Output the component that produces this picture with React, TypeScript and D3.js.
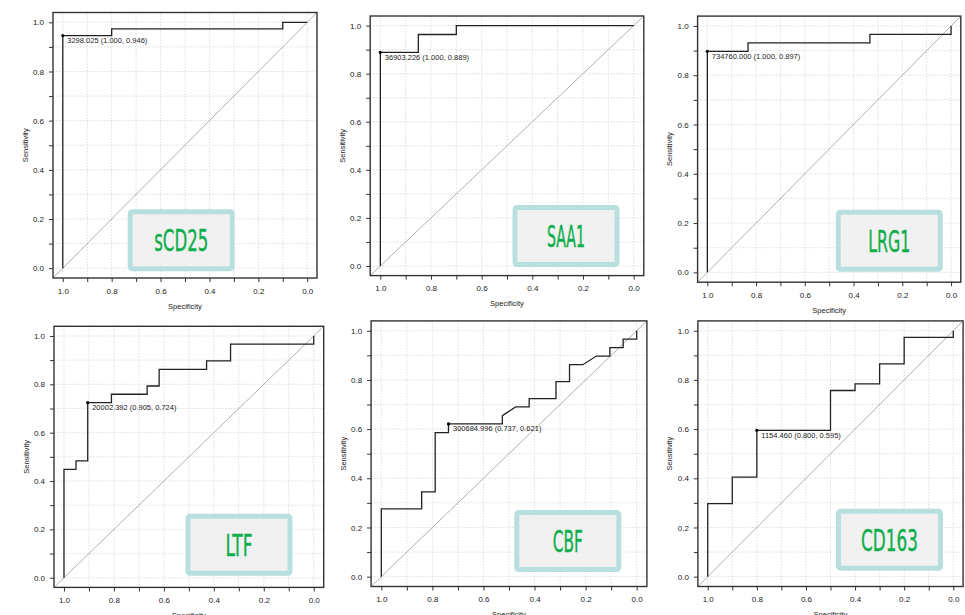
import React, { useEffect, useRef } from 'react'
import * as d3 from 'd3'

const W = 965
const H = 615

// markers, in panel order (row by row)
const markers = ['sCD25', 'SAA1', 'LRG1', 'LTF', 'CBF', 'CD163']

// ROC points: specificity / sensitivity
const sCD25Spec = [1, 1, 0.8, 0.8, 0.1, 0.1, 0]
const sCD25Sens = [0, 0.946, 0.946, 0.973, 0.973, 1, 1]
const saa1Spec = [1, 1, 0.85, 0.85, 0.7, 0.7, 0]
const saa1Sens = [0, 0.889, 0.889, 0.963, 0.963, 1, 1]
const lrg1Spec = [1, 1, 0.833, 0.833, 0.333, 0.333, 0, 0]
const lrg1Sens = [0, 0.897, 0.897, 0.931, 0.931, 0.966, 0.966, 1]
const ltfSpec = [1, 1, 0.952, 0.952, 0.905, 0.905, 0.81, 0.81, 0.667, 0.667, 0.619, 0.619, 0.429, 0.429, 0.333, 0.333, 0, 0]
const ltfSens = [0, 0.448, 0.448, 0.483, 0.483, 0.724, 0.724, 0.759, 0.759, 0.793, 0.793, 0.862, 0.862, 0.897, 0.897, 0.966, 0.966, 1]
const cbfSpec = [1, 1, 0.842, 0.842, 0.789, 0.789, 0.737, 0.737, 0.526, 0.526, 0.474, 0.421, 0.421, 0.316, 0.316, 0.263, 0.263, 0.211, 0.158, 0.105, 0.105, 0.053, 0.053, 0, 0]
const cbfSens = [0, 0.276, 0.276, 0.345, 0.345, 0.586, 0.586, 0.621, 0.621, 0.655, 0.69, 0.69, 0.724, 0.724, 0.793, 0.793, 0.862, 0.862, 0.897, 0.897, 0.931, 0.931, 0.966, 0.966, 1]
const cd163Spec = [1, 1, 0.9, 0.9, 0.8, 0.8, 0.5, 0.5, 0.4, 0.4, 0.3, 0.3, 0.2, 0.2, 0, 0]
const cd163Sens = [0, 0.297, 0.297, 0.405, 0.405, 0.595, 0.595, 0.757, 0.757, 0.784, 0.784, 0.865, 0.865, 0.973, 0.973, 1]

// best threshold per marker
const cutoffValues = ['3298.025', '36903.226', '734760.000', '20002.392', '300684.996', '1154.460']
const cutoffSpec = [1, 1, 1, 0.905, 0.737, 0.8]
const cutoffSens = [0.946, 0.889, 0.897, 0.724, 0.621, 0.595]

const majorTicks = [0, 0.2, 0.4, 0.6, 0.8, 1.0]
const minorTicks = [0.1, 0.3, 0.5, 0.7, 0.9]

const rocSpec = [sCD25Spec, saa1Spec, lrg1Spec, ltfSpec, cbfSpec, cd163Spec]
const rocSens = [sCD25Sens, saa1Sens, lrg1Sens, ltfSens, cbfSens, cd163Sens]

// layout: plot frames and the name badges (pixel positions)
const frames = [
  { l: 53, t: 12.5, r: 317, b: 278 },
  { l: 370.2, t: 16, r: 643.8, b: 275.6 },
  { l: 697.6, t: 16.1, r: 960.8, b: 282.2 },
  { l: 54, t: 326.3, r: 323.7, b: 587.4 },
  { l: 371.1, t: 320.9, r: 646.9, b: 586.5 },
  { l: 697.9, t: 320.9, r: 963.1, b: 586.5 },
]
const badges = [
  { cx: 181.2, cy: 240.3, tw: 54 },
  { cx: 566, cy: 236, tw: 38 },
  { cx: 889.3, cy: 240.7, tw: 42 },
  { cx: 239, cy: 544.7, tw: 27 },
  { cx: 567.8, cy: 541, tw: 30 },
  { cx: 889.5, cy: 539.7, tw: 57 },
]

const ink = '#222'
const font = 'Liberation Sans, Arial, sans-serif'

const App = () => {
  const ref = useRef(null)

  useEffect(() => {
    const svg = d3.select(ref.current)
    svg.selectAll('*').remove()
    const allTicks = [...majorTicks, ...minorTicks]

    markers.forEach((name, i) => {
      const f = frames[i]
      const x = d3.scaleLinear().domain([1.04, -0.04]).range([f.l, f.r])
      const y = d3.scaleLinear().domain([-0.04, 1.04]).range([f.b, f.t])
      const g = svg.append('g')

      // grid
      g.selectAll('.gx').data(allTicks).enter().append('line')
        .attr('x1', d => x(d)).attr('x2', d => x(d))
        .attr('y1', f.t).attr('y2', f.b)
        .attr('stroke', '#d6d6d6').attr('stroke-width', 0.8).attr('stroke-dasharray', '1.5,1.5')
      g.selectAll('.gy').data(allTicks).enter().append('line')
        .attr('y1', d => y(d)).attr('y2', d => y(d))
        .attr('x1', f.l).attr('x2', f.r)
        .attr('stroke', '#d6d6d6').attr('stroke-width', 0.8).attr('stroke-dasharray', '1.5,1.5')

      // chance line
      g.append('line')
        .attr('x1', x(1.04)).attr('y1', y(-0.04))
        .attr('x2', x(-0.04)).attr('y2', y(1.04))
        .attr('stroke', '#b0b0b0').attr('stroke-width', 1)

      // name badge
      const b = badges[i]
      g.append('rect')
        .attr('x', b.cx - 51).attr('y', b.cy - 28.5)
        .attr('width', 102).attr('height', 57).attr('rx', 2)
        .attr('fill', '#eeeeee').attr('fill-opacity', 0.85)
        .attr('stroke', '#b8dfe0').attr('stroke-width', 5)
      g.append('text')
        .attr('x', b.cx).attr('y', b.cy + 11)
        .attr('text-anchor', 'middle')
        .attr('textLength', b.tw).attr('lengthAdjust', 'spacingAndGlyphs')
        .style('font-family', 'Liberation Sans Narrow, DejaVu Sans Condensed, sans-serif')
        .style('font-size', '30px')
        .attr('fill', '#0fae4b').attr('stroke', '#0fae4b').attr('stroke-width', 0.4)
        .text(name)

      // ROC curve
      const pts = rocSpec[i].map((s, k) => [s, rocSens[i][k]])
      const line = d3.line().x(d => x(d[0])).y(d => y(d[1]))
      g.append('path')
        .attr('d', line(pts))
        .attr('fill', 'none').attr('stroke', ink).attr('stroke-width', 1.3)

      // best threshold
      const px = x(cutoffSpec[i])
      const py = y(cutoffSens[i])
      g.append('circle').attr('cx', px).attr('cy', py).attr('r', 1.6).attr('fill', '#000')
      g.append('text')
        .attr('x', px + 4.5).attr('y', py + 7.5)
        .style('font-family', font).style('font-size', '7.5px')
        .attr('fill', ink)
        .text(`${cutoffValues[i]} (${cutoffSpec[i].toFixed(3)}, ${cutoffSens[i].toFixed(3)})`)

      // frame
      g.append('rect')
        .attr('x', f.l).attr('y', f.t).attr('width', f.r - f.l).attr('height', f.b - f.t)
        .attr('fill', 'none').attr('stroke', '#333').attr('stroke-width', 1.4)

      // axes
      const fmt = d => (majorTicks.includes(d) ? d3.format('.1f')(d) : '')
      const xAxis = d3.axisBottom(x).tickValues(allTicks).tickFormat(fmt).tickSize(4).tickPadding(6)
      const xg = g.append('g').attr('transform', `translate(0,${f.b})`).call(xAxis)
      const yAxis = d3.axisLeft(y).tickValues(allTicks).tickFormat(fmt).tickSize(4).tickPadding(5)
      const yg = g.append('g').attr('transform', `translate(${f.l},0)`).call(yAxis)
      ;[xg, yg].forEach(a => {
        a.select('.domain').remove()
        a.selectAll('line').attr('stroke', '#333')
        a.selectAll('text').style('font-family', font).style('font-size', '8px').attr('fill', ink)
      })

      g.append('text')
        .attr('x', (f.l + f.r) / 2).attr('y', f.b + 30.5)
        .attr('text-anchor', 'middle')
        .style('font-family', font).style('font-size', '7.5px').attr('fill', ink)
        .text('Specificity')
      g.append('text')
        .attr('transform', `translate(${f.l - 25.5},${(f.t + f.b) / 2}) rotate(-90)`)
        .attr('text-anchor', 'middle')
        .style('font-family', font).style('font-size', '7.5px').attr('fill', ink)
        .text('Sensitivity')
    })
  }, [])

  return (
    <svg
      ref={ref}
      width={W}
      height={H}
      style={{ position: 'absolute', left: 0, top: 0, background: '#fff' }}
    ></svg>
  )
}

export default App
